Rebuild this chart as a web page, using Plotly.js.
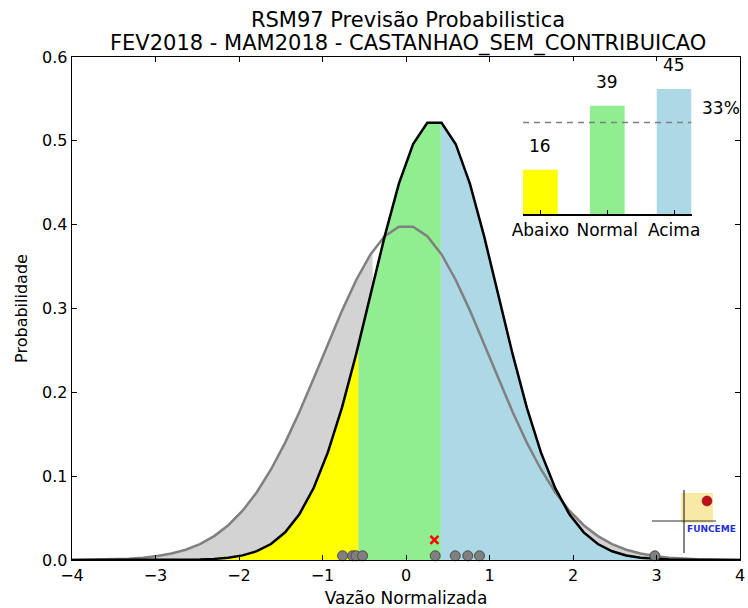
<!DOCTYPE html>
<html>
<head>
<meta charset="utf-8">
<script src="https://cdn.plot.ly/plotly-3.0.1.min.js"></script>
<style>html,body{margin:0;padding:0;background:#fff;}#chart{width:748px;height:608px;}</style>
</head>
<body>
<div id="chart"></div>
<script>
// ---- data ----
const xGrid = [-4.000,-3.830,-3.660,-3.489,-3.319,-3.149,-2.979,-2.809,-2.638,-2.468,-2.298,-2.128,
  -1.957,-1.787,-1.617,-1.447,-1.277,-1.106,-0.936,-0.766,-0.596,-0.426,-0.255,-0.085,
  0.085,0.255,0.426,0.596,0.766,0.936,1.106,1.277,1.447,1.617,1.787,1.957,
  2.128,2.298,2.468,2.638,2.809,2.979,3.149,3.319,3.489,3.660,3.830,4.000];
// climatology curve (gray)
const climatology = [0.0001,0.0003,0.0005,0.0009,0.0016,0.0028,0.0047,0.0077,0.0123,0.0190,0.0285,0.0415,
  0.0588,0.0808,0.1080,0.1400,0.1765,0.2164,0.2574,0.2975,0.3340,0.3644,0.3862,0.3975,
  0.3975,0.3862,0.3644,0.3340,0.2975,0.2574,0.2164,0.1765,0.1400,0.1080,0.0808,0.0588,
  0.0415,0.0285,0.0190,0.0123,0.0077,0.0047,0.0028,0.0016,0.0009,0.0005,0.0003,0.0001];
// forecast curve (black)
const forecast = [0.0000,0.0000,0.0000,0.0000,0.0000,0.0000,0.0000,0.0001,0.0002,0.0006,0.0013,0.0027,
  0.0055,0.0105,0.0191,0.0331,0.0546,0.0859,0.1283,0.1821,0.2459,0.3158,0.3863,0.4489,
  0.4962,0.5216,0.5216,0.4960,0.4486,0.3860,0.3158,0.2455,0.1817,0.1280,0.0857,0.0546,
  0.0330,0.0190,0.0104,0.0054,0.0027,0.0013,0.0006,0.0002,0.0001,0.0000,0.0000,0.0000];
const categoryBounds = [-0.568, 0.418];        // yellow|green|blue split
const climatologyBounds = [-0.40, 0.43];      // gray fill split
const members = [-0.76,-0.64,-0.60,-0.52,0.35,0.59,0.74,0.88,2.98];
const memberLevel = 0.005;
const forecastMark = {x: 0.34, y: 0.024};
const categories = ['Abaixo','Normal','Acima'];
const probabilities = [16,39,45];
const climProb = 33;
const xTicks = [-4,-3,-2,-1,0,1,2,3,4];
const yTicks = [0.0,0.1,0.2,0.3,0.4,0.5,0.6];
const titleLines = ['RSM97 Previsão Probabilistica', 'FEV2018 - MAM2018 - CASTANHAO_SEM_CONTRIBUICAO'];

// ---- helpers ----
function interp(xs, ys, a){
  for(let i=0;i<xs.length-1;i++){
    if(a>=xs[i] && a<=xs[i+1]){
      const t=(a-xs[i])/(xs[i+1]-xs[i]);
      return ys[i]+t*(ys[i+1]-ys[i]);
    }
  }
  return a<xs[0]?ys[0]:ys[ys.length-1];
}
function segment(xs, ys, a, b){
  const sx=[a], sy=[interp(xs,ys,a)];
  for(let i=0;i<xs.length;i++){ if(xs[i]>a && xs[i]<b){ sx.push(xs[i]); sy.push(ys[i]); } }
  sx.push(b); sy.push(interp(xs,ys,b));
  return {x:sx, y:sy};
}
function fillTrace(seg, color){
  return {x:seg.x, y:seg.y, type:'scatter', mode:'lines', fill:'tozeroy',
    fillcolor:color, line:{width:0, color:color}, hoverinfo:'skip', showlegend:false};
}
const W=748, H=608, L=72, R=8, T=57, B=48;
const pw=W-L-R, ph=H-T-B;
const PX=px=>(px-L)/pw, PY=py=>(H-B-py)/ph;

const xMin=xGrid[0], xMax=xGrid[xGrid.length-1];
const traces=[
  fillTrace(segment(xGrid,climatology,xMin,climatologyBounds[0]),'#d3d3d3'),
  fillTrace(segment(xGrid,climatology,climatologyBounds[1],xMax),'#d3d3d3'),
  fillTrace(segment(xGrid,forecast,xMin,categoryBounds[0]),'#ffff00'),
  fillTrace(segment(xGrid,forecast,categoryBounds[0],categoryBounds[1]),'#90ee90'),
  fillTrace(segment(xGrid,forecast,categoryBounds[1],xMax),'#add8e6'),
  {x:xGrid, y:climatology, type:'scatter', mode:'lines', line:{color:'#808080', width:2.5}, showlegend:false, hoverinfo:'skip'},
  {x:xGrid, y:forecast, type:'scatter', mode:'lines', line:{color:'#000000', width:2.5}, showlegend:false, hoverinfo:'skip'},
  {x:members, y:members.map(()=>memberLevel), type:'scatter', mode:'markers', cliponaxis:false,
    marker:{size:10, color:'#808080', line:{color:'#4d4d4d', width:1}}, showlegend:false, hoverinfo:'skip'},
  {x:[forecastMark.x], y:[forecastMark.y], type:'scatter', mode:'markers',
    marker:{symbol:'x-thin', size:8, line:{color:'#ff0000', width:2.5}, color:'#ff0000'}, showlegend:false, hoverinfo:'skip'},
  // inset bar chart
  {x:[0,1,2], y:probabilities, type:'bar', xaxis:'x2', yaxis:'y2', width:0.52,
    marker:{color:['#ffff00','#90ee90','#add8e6'], line:{width:0}}, showlegend:false, hoverinfo:'skip'},
  {x:[-0.26,2.26], y:[climProb,climProb], type:'scatter', mode:'lines', xaxis:'x2', yaxis:'y2',
    line:{color:'#808080', width:1.5, dash:'6px,5px'}, showlegend:false, hoverinfo:'skip'}
];

const font='DejaVu Sans, Verdana, sans-serif';
const annotations = probabilities.map((p,i)=>({
  x:i, y:p+8.5, xref:'x2', yref:'y2', text:String(p), showarrow:false,
  font:{family:font, size:17, color:'#000'}, xanchor:'center', yanchor:'middle'
}));
annotations.push({x:PX(721), y:climProb+5, xref:'paper', yref:'y2', text:climProb+'%', showarrow:false,
  font:{family:font, size:17, color:'#000'}, xanchor:'center', yanchor:'middle'});
annotations.push({x:PX(711), y:PY(529), xref:'paper', yref:'paper', text:'<b>FUNCEME</b>', showarrow:false,
  font:{family:'DejaVu Sans', size:9, color:'#1f2fe0'}, xanchor:'center', yanchor:'middle'});
annotations.push({x:PX(408), y:PY(43), xref:'paper', yref:'paper', text:titleLines[1], showarrow:false,
  font:{family:font, size:21, color:'#000'}, xanchor:'center', yanchor:'middle'});

const shapes=[
  {type:'rect', xref:'paper', yref:'paper', x0:PX(681), x1:PX(713), y0:PY(523), y1:PY(493),
    fillcolor:'#f8e9a6', line:{width:0}, layer:'above'},
  {type:'line', xref:'paper', yref:'paper', x0:PX(684), x1:PX(684), y0:PY(553), y1:PY(490),
    line:{color:'#333', width:1.2}, layer:'above'},
  {type:'line', xref:'paper', yref:'paper', x0:PX(652), x1:PX(716), y0:PY(521), y1:PY(521),
    line:{color:'#333', width:1.2}, layer:'above'},
  {type:'circle', xref:'paper', yref:'paper', x0:PX(702), x1:PX(712), y0:PY(506), y1:PY(496),
    fillcolor:'#c0101a', line:{color:'#8a0010', width:0.5}, layer:'above'}
];

const layout={
  width:W, height:H, margin:{l:L, r:R, t:T, b:B},
  paper_bgcolor:'#ffffff', plot_bgcolor:'#ffffff',
  font:{family:font, size:16, color:'#000'},
  showlegend:false,
  title:{text:titleLines[0],
    x:PX(408), xref:'paper', xanchor:'center', y:1-20/H, yref:'container', yanchor:'middle',
    font:{family:font, size:21, color:'#000'}},
  xaxis:{range:[-4,4], tickvals:xTicks, ticktext:xTicks.map(v=>v<0?'\u2212'+Math.abs(v):String(v)),
    ticks:'inside', ticklen:5, tickcolor:'#000', showline:true, linecolor:'#000', linewidth:1.3, mirror:'ticks',
    showgrid:false, zeroline:false, tickfont:{size:16},
    title:{text:'Vazão Normalizada', font:{size:17}, standoff:10}, automargin:false},
  yaxis:{range:[0,0.6], tickvals:yTicks, ticktext:yTicks.map(v=>v.toFixed(1)),
    ticks:'inside', ticklen:5, tickcolor:'#000', showline:true, linecolor:'#000', linewidth:1.3, mirror:'ticks',
    showgrid:false, zeroline:false, tickfont:{size:16},
    title:{text:'Probabilidade', font:{size:16}, standoff:10}, automargin:false},
  xaxis2:{domain:[PX(523), PX(691.5)], anchor:'y2', range:[-0.26,2.26], tickvals:[0,1,2], ticktext:categories,
    ticks:'inside', ticklen:4, tickcolor:'#000', showline:true, linecolor:'#000', linewidth:1.5,
    showgrid:false, zeroline:false, tickfont:{size:17}, automargin:false},
  yaxis2:{domain:[PY(214.3), PY(214.3-55*2.785)], anchor:'x2', range:[0,55], visible:false, showgrid:false, zeroline:false},
  annotations:annotations, shapes:shapes
};
Plotly.newPlot('chart', traces, layout, {displayModeBar:false, staticPlot:true});
</script>
</body>
</html>
